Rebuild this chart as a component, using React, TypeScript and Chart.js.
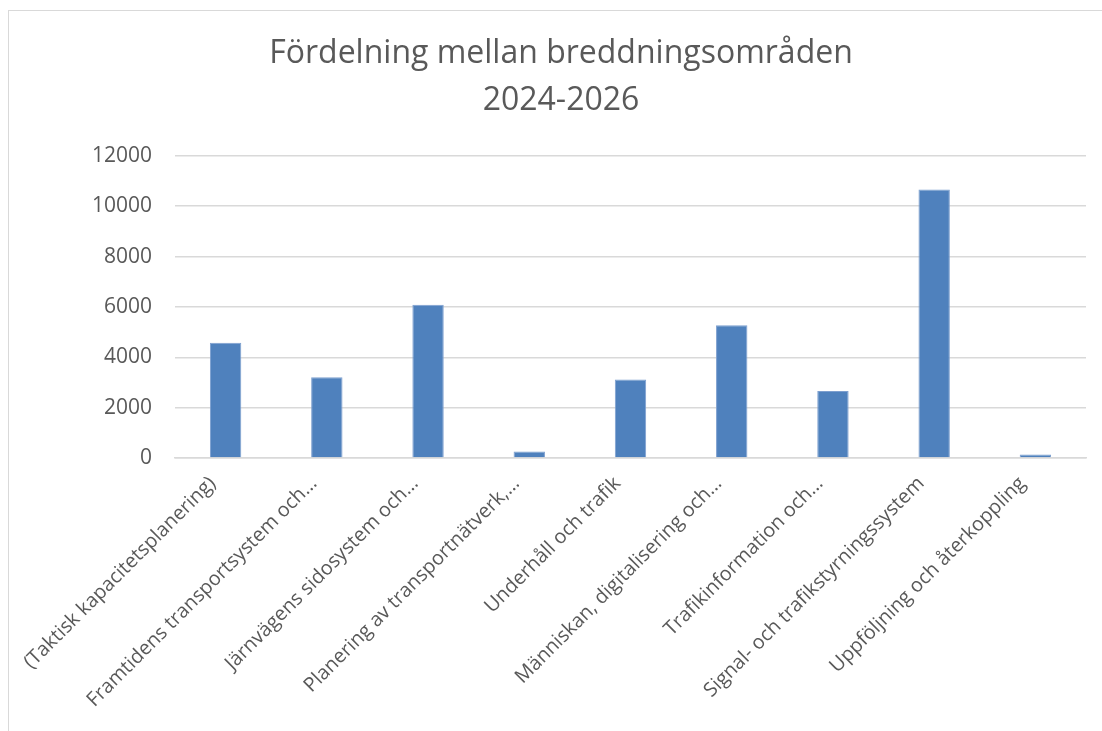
import React, { useEffect, useRef } from "react";
import { Chart, registerables } from "chart.js";

Chart.register(...registerables);

const categories: string[] = [
  "(Taktisk kapacitetsplanering)",
  "Framtidens transportsystem och…",
  "Järnvägens sidosystem och…",
  "Planering av transportnätverk,…",
  "Underhåll och trafik",
  "Människan, digitalisering och…",
  "Trafikinformation och…",
  "Signal- och trafikstyrningssystem",
  "Uppföljning och återkoppling",
];

const values: number[] = [4580, 3210, 6090, 260, 3120, 5270, 2660, 10660, 140];

const titleLines: string[] = ["Fördelning mellan breddningsområden", "2024-2026"];

const yMin = 0;
const yMax = 12000;
const yStep = 2000;

const FONT = "'Open Sans', 'Noto Sans', sans-serif";
const TEXT = "#595959";
const GRID = "#d9d9d9";

export default function App() {
  const ref = useRef<HTMLCanvasElement | null>(null);

  useEffect(() => {
    if (!ref.current) return;
    const chart = new Chart(ref.current, {
      type: "bar",
      data: {
        labels: categories,
        datasets: [
          {
            data: values,
            backgroundColor: "#4f81bd",
            borderColor: "#7d9fcf",
            borderWidth: 1,
            barPercentage: 0.31,
            categoryPercentage: 1,
          },
        ],
      },
      options: {
        responsive: false,
        animation: false,
        layout: { padding: { left: 27, right: 16, top: 0, bottom: 0 } },
        plugins: {
          legend: { display: false },
          tooltip: { enabled: false },
          title: {
            display: true,
            text: titleLines,
            color: TEXT,
            font: { family: FONT, size: 32, weight: "normal", lineHeight: 1.45 },
            padding: { top: 20, bottom: 32 },
          },
        },
        scales: {
          x: {
            grid: { display: false, drawTicks: false },
            border: { display: true, color: GRID, width: 1.5 },
            ticks: {
              autoSkip: false,
              minRotation: 45,
              maxRotation: 45,
              padding: 14,
              labelOffset: -13,
              color: TEXT,
              font: { family: FONT, size: 19.8 },
            },
            afterFit: (s: any) => {
              s.height = 273;
            },
          },
          y: {
            min: yMin,
            max: yMax,
            grid: { color: GRID, lineWidth: 1.5, drawTicks: false },
            border: { display: false },
            ticks: {
              stepSize: yStep,
              padding: 23,
              color: TEXT,
              font: { family: FONT, size: 21 },
              callback: (v: any) => String(v),
            },
            afterFit: (s: any) => {
              s.width = 139;
            },
          },
        },
      },
    });
    return () => chart.destroy();
  }, []);

  return (
    <div
      style={{
        position: "fixed",
        left: 8,
        top: 10,
        width: 1100,
        height: 730,
        borderLeft: `1px solid ${GRID}`,
        borderTop: `1px solid ${GRID}`,
        overflow: "hidden",
        background: "#fff",
      }}
    >
      <canvas ref={ref} width={1093} height={720} style={{ display: "block" }} />
    </div>
  );
}
